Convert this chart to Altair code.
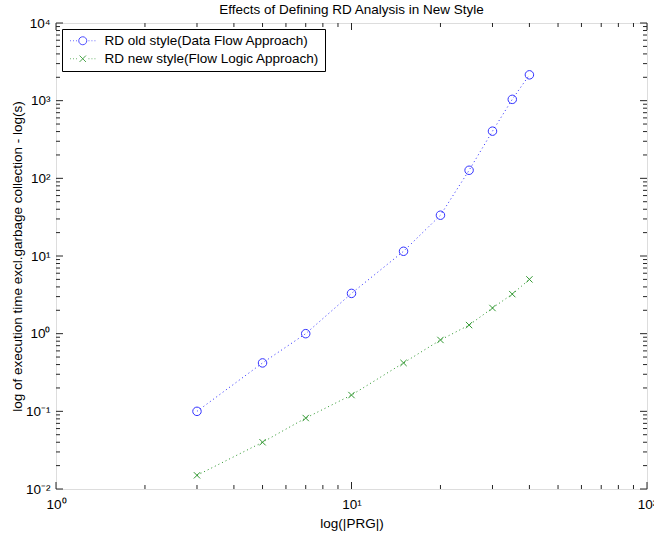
import altair as alt
import pandas as pd

# ---- data ----
x_vals = [3, 5, 7, 10, 15, 20, 25, 30, 35, 40]
old_style = [0.10, 0.42, 1.0, 3.3, 11.5, 33.5, 127, 405, 1040, 2150]
new_style = [0.015, 0.040, 0.082, 0.162, 0.42, 0.83, 1.29, 2.14, 3.23, 5.0]
series_names = ["RD old style(Data Flow Approach)", "RD new style(Flow Logic Approach)"]
title_text = "Effects of Defining RD Analysis in New Style"
x_title = "log(|PRG|)"
y_title = "log of execution time excl.garbage collection - log(s)"
x_major = [1, 10, 100]
y_major = [0.01, 0.1, 1, 10, 100, 1000, 10000]
x_minor = [m * d for d in [1, 10] for m in range(2, 10)]
y_minor = [m * 10.0 ** e for e in range(-2, 4) for m in range(2, 10)]

W, H = 591, 466
FONT = "Liberation Sans"
FS = 13.5
BLUE = "#0000ff"
GREEN = "#008000"
AX = "#262626"

sup = "['\u2070','\u00b9','\u00b2','\u00b3','\u2074','\u2075','\u2076','\u2077','\u2078','\u2079']"
expo = "round(log(datum.value)/LN10)"
label_expr = f"'10' + ({expo} < 0 ? '\u207b' : '') + {sup}[abs({expo})]"

xscale = alt.Scale(type="log", domain=[1, 100], nice=False)
yscale = alt.Scale(type="log", domain=[0.01, 10000], nice=False)

common_axis = dict(ticks=False, domain=False, grid=False, labelFont=FONT, labelFontSize=FS,
                   labelColor="black", labelOverlap=False, labelBound=False, labelFlush=False,
                   labelExpr=label_expr, titleFont=FONT, titleFontSize=FS,
                   titleFontWeight="normal", titleColor="black")
xaxis = alt.Axis(values=x_major, labelPadding=8, title=x_title, titlePadding=6, **common_axis)
yaxis = alt.Axis(values=y_major, labelPadding=6, title=y_title, titlePadding=1, **common_axis)

X = alt.X("x:Q", scale=xscale, axis=xaxis)
Y = alt.Y("y:Q", scale=yscale, axis=yaxis)

df = pd.DataFrame({
    "x": x_vals * 2,
    "y": old_style + new_style,
    "series": [series_names[0]] * len(x_vals) + [series_names[1]] * len(x_vals),
})

XPATH = "M-1,-1L1,1M-1,1L1,-1"
dots = "M-3.15,0L-2.95,0M-2.4,0L-2.2,0M-1.65,0L-1.45,0M1.45,0L1.65,0M2.2,0L2.4,0M2.95,0L3.15,0"
LEG_P1 = dots + "M1,0A1,1,0,1,1,-1,0A1,1,0,1,1,1,0"
LEG_P2 = dots + "M-0.8,-0.8L0.8,0.8M-0.8,0.8L0.8,-0.8"


def line(name, color):
    return alt.Chart(df).transform_filter(alt.datum.series == name).mark_line(
        color=color, strokeDash=[1, 3], strokeWidth=1, opacity=0.85
    ).encode(x=X, y=Y)


pts_old = alt.Chart(df).transform_filter(alt.datum.series == series_names[0]).mark_point(
    shape="circle", size=72, filled=False, color=BLUE, strokeWidth=1, opacity=0.8
).encode(x=X, y=Y)
pts_new = alt.Chart(df).transform_filter(alt.datum.series == series_names[1]).mark_point(
    shape=XPATH, size=40, filled=False, color=GREEN, strokeWidth=1, opacity=0.8
).encode(x=X, y=Y)


def xticks(vals, length):
    d = pd.DataFrame({"x": vals})
    bottom = alt.Chart(d).mark_rule(color=AX, strokeWidth=1).encode(
        x=X, y=alt.value(H), y2=alt.value(H - length))
    top = alt.Chart(d).mark_rule(color=AX, strokeWidth=1).encode(
        x=X, y=alt.value(0), y2=alt.value(length))
    return [bottom, top]


def yticks(vals, length):
    d = pd.DataFrame({"y": vals})
    left = alt.Chart(d).mark_rule(color=AX, strokeWidth=1).encode(
        y=Y, x=alt.value(0), x2=alt.value(length))
    right = alt.Chart(d).mark_rule(color=AX, strokeWidth=1).encode(
        y=Y, x=alt.value(W), x2=alt.value(W - length))
    return [left, right]


LEG = alt.Legend(title=None, orient="top-left", offset=6, strokeColor="black", fillColor="white",
                 padding=5, labelFont=FONT, labelFontSize=FS, labelColor="black", labelLimit=500,
                 symbolSize=64, symbolStrokeWidth=1, symbolOffset=9, labelOffset=15, rowPadding=3)

leg_df = pd.DataFrame({"series": series_names})
legend_layer = alt.Chart(leg_df).transform_filter("false").mark_point(
    filled=False, strokeWidth=1
).encode(
    color=alt.Color("series:N", scale=alt.Scale(domain=series_names, range=[BLUE, GREEN]), legend=LEG),
    shape=alt.Shape("series:N", scale=alt.Scale(domain=series_names, range=[LEG_P1, LEG_P2]), legend=LEG),
)

layers = (xticks(x_major, 7) + xticks(x_minor, 4) + yticks(y_major, 7) + yticks(y_minor, 4)
          + [line(series_names[0], BLUE), line(series_names[1], GREEN), pts_old, pts_new, legend_layer])

chart = alt.layer(*layers).properties(
    width=W, height=H,
    title=alt.Title(title_text, font=FONT, fontSize=FS, fontWeight="normal", color="black",
                    anchor="middle", offset=0),
    padding={"left": 56, "top": 23, "right": 7, "bottom": 46},
    autosize=alt.AutoSizeParams(type="none"),
).configure_view(stroke=AX, strokeWidth=1).configure(background="white")

chart.save("out.html", embed_options={"renderer": "svg", "actions": False})
